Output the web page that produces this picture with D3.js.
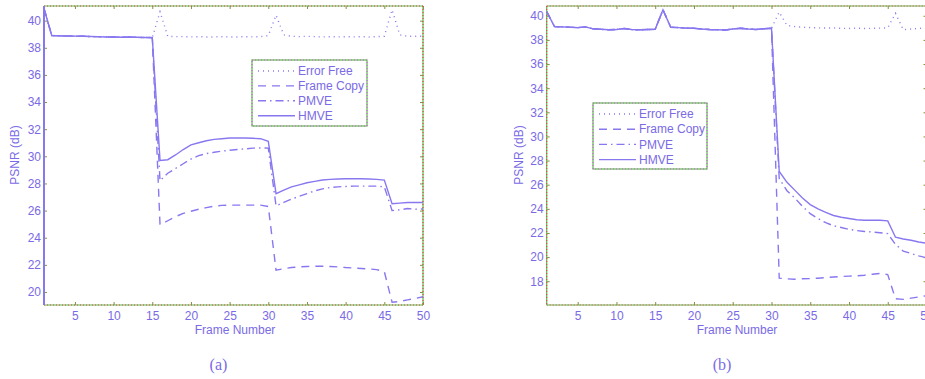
<!DOCTYPE html>
<html>
<head>
  <meta charset="UTF-8">
  <title>PSNR vs Frame Number</title>
  <script src="https://d3js.org/d3.v7.min.js"></script>
  <style>
    body { margin: 0; background: white; }
    svg { font-family: "Liberation Sans", Arial, sans-serif; display: block; }
    .tick text { font-size: 12px; fill: #7a6ae6; }
    .tick line { stroke: #8a8f3c; }
    .lbl { font-size: 12px; fill: #7a6ae6; }
    .cap { font-family: "Liberation Serif", serif; font-size: 16px; fill: #7a6ae6; }
  </style>
</head>
<body>
  <svg></svg>
  <script>
    // data
    const frames = [1,2,3,4,5,6,7,8,9,10,11,12,13,14,15,16,17,18,19,20,21,22,23,24,25,
                    26,27,28,29,30,31,32,33,34,35,36,37,38,39,40,41,42,43,44,45,46,47,48,49,50];
    const frameTicks = [5,10,15,20,25,30,35,40,45,50];
    const yTicksA = [20,22,24,26,28,30,32,34,36,38,40];
    const yTicksB = [18,20,22,24,26,28,30,32,34,36,38,40];
    const seriesNames = ['Error Free', 'Frame Copy', 'PMVE', 'HMVE'];

    // panel (a)
    const errorFreeA = [40.9,38.9,38.88,38.87,38.86,38.85,38.83,38.82,38.8,38.8,38.78,38.8,38.77,38.76,38.75,
      40.65,38.85,38.82,38.82,38.8,38.82,38.8,38.8,38.82,38.8,38.8,38.82,38.8,38.82,38.9,
      40.4,38.95,38.85,38.82,38.85,38.82,38.8,38.82,38.8,38.82,38.8,38.82,38.8,38.82,38.85,
      40.8,38.95,38.85,38.85,38.85];
    const frameCopyA = [40.9,38.9,38.88,38.87,38.86,38.85,38.83,38.82,38.8,38.8,38.78,38.8,38.77,38.76,38.75,
      24.95,25.25,25.55,25.8,25.95,26.1,26.22,26.32,26.38,26.4,26.4,26.4,26.4,26.4,26.3,
      21.6,21.72,21.8,21.85,21.88,21.9,21.9,21.88,21.85,21.8,21.77,21.73,21.7,21.65,21.5,
      19.25,19.3,19.42,19.52,19.65];
    const pmveA = [40.9,38.9,38.88,38.87,38.86,38.85,38.83,38.82,38.8,38.8,38.78,38.8,38.77,38.76,38.75,
      28.2,28.75,29.1,29.45,29.8,30.05,30.2,30.3,30.38,30.45,30.5,30.55,30.6,30.62,30.6,
      26.35,26.6,26.85,27.05,27.25,27.45,27.6,27.7,27.75,27.78,27.8,27.8,27.8,27.8,27.75,
      26.0,26.05,26.15,26.1,26.12];
    const hmveA = [40.9,38.9,38.88,38.87,38.86,38.85,38.83,38.82,38.8,38.8,38.78,38.8,38.77,38.76,38.75,
      29.7,29.75,30.1,30.5,30.85,31.0,31.15,31.25,31.3,31.35,31.35,31.35,31.33,31.3,31.1,
      27.25,27.5,27.75,27.9,28.05,28.15,28.25,28.3,28.33,28.35,28.35,28.35,28.33,28.3,28.25,
      26.5,26.55,26.6,26.6,26.6];

    // panel (b)
    const errorFreeB = [40.35,39.1,39.08,39.05,39.02,39.08,38.92,38.88,38.84,38.86,38.95,38.85,38.84,38.86,38.88,
      40.5,39.05,39.02,38.98,38.96,38.9,38.86,38.84,38.82,38.9,38.96,38.9,38.86,38.92,38.96,
      40.3,39.2,39.1,39.05,39.02,39.0,38.98,39.0,38.96,38.95,38.98,38.95,38.96,38.98,39.0,
      40.2,38.85,38.9,38.95,39.0];
    const frameCopyB = [40.35,39.1,39.08,39.05,39.02,39.08,38.92,38.88,38.84,38.86,38.95,38.85,38.84,38.86,38.88,
      40.5,39.05,39.02,38.98,38.96,38.9,38.86,38.84,38.82,38.9,38.96,38.9,38.86,38.92,38.96,
      18.25,18.2,18.17,18.2,18.22,18.25,18.3,18.35,18.4,18.42,18.45,18.5,18.58,18.65,18.55,
      16.55,16.5,16.6,16.7,16.8];
    const pmveB = [40.35,39.1,39.08,39.05,39.02,39.08,38.92,38.88,38.84,38.86,38.95,38.85,38.84,38.86,38.88,
      40.5,39.05,39.02,38.98,38.96,38.9,38.86,38.84,38.82,38.9,38.96,38.9,38.86,38.92,38.96,
      26.5,25.5,24.9,24.2,23.6,23.2,22.85,22.6,22.45,22.3,22.2,22.12,22.08,22.02,21.95,
      21.05,20.5,20.3,20.1,19.95];
    const hmveB = [40.35,39.1,39.08,39.05,39.02,39.08,38.92,38.88,38.84,38.86,38.95,38.85,38.84,38.86,38.88,
      40.5,39.05,39.02,38.98,38.96,38.9,38.86,38.84,38.82,38.9,38.96,38.9,38.86,38.92,38.96,
      27.1,26.2,25.55,24.9,24.35,24.0,23.7,23.45,23.3,23.2,23.1,23.05,23.05,23.05,23.0,
      21.65,21.5,21.4,21.25,21.15];

    const lineColor = '#8878f0';
    const dashes = ['1,4', '8,6', '8,4,1.5,4', null];

    const svg = d3.select('svg').attr('width', 925).attr('height', 379);

    const panels = [
      { id: 'a', xr: [44, 423], yDomain: [19.04, 41.08], yTicks: yTicksA,
        series: [errorFreeA, frameCopyA, pmveA, hmveA],
        legend: { x: 252, y: 60, w: 115, h: 66, step: 14.9 },
        ylabX: 15, caption: '(a)', blueLeft: true },
      { id: 'b', xr: [546.7, 926.5], yDomain: [16.03, 40.81], yTicks: yTicksB,
        series: [errorFreeB, frameCopyB, pmveB, hmveB],
        legend: { x: 593, y: 103, w: 114, h: 66, step: 15.2 },
        ylabX: 519, caption: '(b)', blueLeft: false }
    ];

    const plotTop = 6, plotBottom = 305;

    panels.forEach(p => {
      const x = d3.scaleLinear().domain([1, 50]).range(p.xr);
      const y = d3.scaleLinear().domain(p.yDomain).range([plotBottom, plotTop]);
      const g = svg.append('g');

      g.append('clipPath').attr('id', 'clip-' + p.id)
        .append('rect')
        .attr('x', p.xr[0]).attr('y', plotTop)
        .attr('width', p.xr[1] - p.xr[0]).attr('height', plotBottom - plotTop);

      // axes, ticks pointing inward like matlab
      g.append('g')
        .attr('transform', `translate(0,${plotBottom})`)
        .call(d3.axisBottom(x).tickValues(frameTicks).tickSizeInner(-3).tickSizeOuter(0).tickPadding(6))
        .call(a => a.select('.domain').remove());
      g.append('g')
        .attr('transform', `translate(0,${plotTop})`)
        .call(d3.axisTop(x).tickValues(frameTicks).tickSizeInner(-3).tickSizeOuter(0).tickFormat(''))
        .call(a => a.select('.domain').remove());
      g.append('g')
        .attr('transform', `translate(${p.xr[0]},0)`)
        .call(d3.axisLeft(y).tickValues(p.yTicks).tickSizeInner(-3).tickSizeOuter(0).tickPadding(3))
        .call(a => a.select('.domain').remove());
      g.append('g')
        .attr('transform', `translate(${p.xr[1]},0)`)
        .call(d3.axisRight(y).tickValues(p.yTicks).tickSizeInner(-3).tickSizeOuter(0).tickFormat(''))
        .call(a => a.select('.domain').remove());

      // the frame: green with red speckle
      const box = [[p.xr[0], plotTop, p.xr[1], plotTop], [p.xr[1], plotTop, p.xr[1], plotBottom],
                   [p.xr[0], plotBottom, p.xr[1], plotBottom], [p.xr[0], plotTop, p.xr[0], plotBottom]];
      box.forEach((s, i) => {
        const blue = p.blueLeft && i === 3;
        g.append('line')
          .attr('x1', s[0]).attr('y1', s[1]).attr('x2', s[2]).attr('y2', s[3])
          .attr('stroke', blue ? lineColor : '#5fb84a')
          .attr('stroke-width', blue ? 2 : 1.2);
        if (!blue) {
          g.append('line')
            .attr('x1', s[0]).attr('y1', s[1]).attr('x2', s[2]).attr('y2', s[3])
            .attr('stroke', '#e04848').attr('stroke-width', 1.2)
            .attr('stroke-dasharray', '1,2');
        }
      });

      const line = d3.line()
        .x((d, i) => x(frames[i]))
        .y(d => y(d));

      p.series.forEach((vals, k) => {
        g.append('path')
          .datum(vals)
          .attr('clip-path', `url(#clip-${p.id})`)
          .attr('fill', 'none')
          .attr('stroke', lineColor)
          .attr('stroke-width', 1.4)
          .attr('stroke-dasharray', dashes[k])
          .attr('d', line);
      });

      // legend
      const L = p.legend;
      const lg = g.append('g').attr('transform', `translate(${L.x},${L.y})`);
      lg.append('rect').attr('width', L.w).attr('height', L.h)
        .attr('fill', 'white').attr('stroke', '#5fb84a').attr('stroke-width', 1.2);
      lg.append('rect').attr('width', L.w).attr('height', L.h)
        .attr('fill', 'none').attr('stroke', '#c860e0').attr('stroke-width', 1.2)
        .attr('stroke-dasharray', '1,2');
      seriesNames.forEach((name, k) => {
        const ry = 11 + k * L.step;
        lg.append('line')
          .attr('x1', 6).attr('x2', 43).attr('y1', ry).attr('y2', ry)
          .attr('stroke', lineColor).attr('stroke-width', 1.4)
          .attr('stroke-dasharray', dashes[k]);
        lg.append('text').attr('class', 'lbl')
          .attr('x', 46).attr('y', ry).attr('dy', '0.35em')
          .text(name);
      });

      // labels
      g.append('text').attr('class', 'lbl')
        .attr('transform', `translate(${p.ylabX},155) rotate(-90)`)
        .attr('text-anchor', 'middle').attr('dy', '0.35em')
        .text('PSNR (dB)');
      g.append('text').attr('class', 'lbl')
        .attr('x', p.id === 'a' ? 235 : 737).attr('y', 334)
        .attr('text-anchor', 'middle')
        .text('Frame Number');
      g.append('text').attr('class', 'cap')
        .attr('x', p.id === 'a' ? 218.5 : 722).attr('y', 370)
        .attr('text-anchor', 'middle')
        .text(p.caption);
    });
  </script>
</body>
</html>
